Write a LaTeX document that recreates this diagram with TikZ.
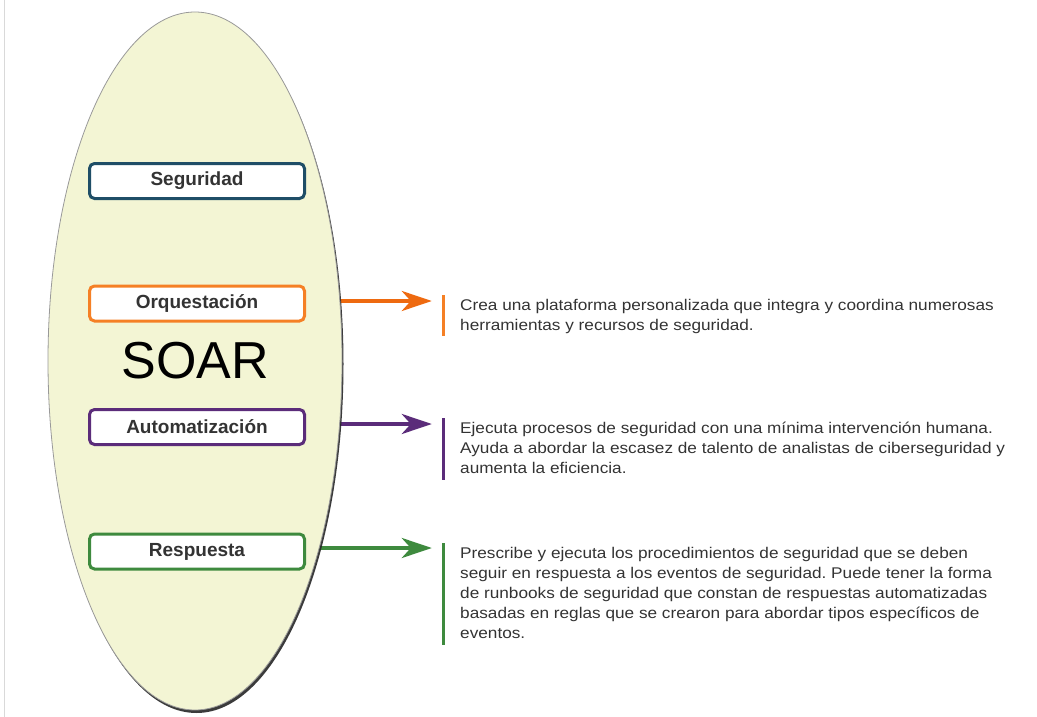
\documentclass[tikz,border=0pt]{standalone}
\usepackage{fontspec}
\setmainfont{Liberation Sans}
\newfontfamily\descfont[FakeStretch=1.11]{Liberation Sans}
\usetikzlibrary{arrows.meta,shapes.geometric,shadows}
\definecolor{segcol}{HTML}{1F4E67}
\definecolor{orqcol}{HTML}{F58025}
\definecolor{orqarrow}{HTML}{EE6A10}
\definecolor{autcol}{HTML}{5B2C7A}
\definecolor{rescol}{HTML}{3E8A3E}
\definecolor{txtgray}{HTML}{333333}
\definecolor{ovalfill}{HTML}{F3F5D4}
\pgfdeclarelayer{bg}
\pgfsetlayers{bg,main}
\frenchspacing
\tikzset{
  tagbox/.style={draw=#1, line width=3pt, rounded corners=5pt, fill=white,
    minimum width=215pt, minimum height=35pt, inner sep=0pt, text=txtgray,
    font=\fontsize{19}{22}\selectfont\bfseries},
  desc/.style={anchor=north west, align=left, inner sep=0pt, text=txtgray,
    font=\descfont\fontsize{15.5}{20}\selectfont},
  barline/.style={fill=#1, minimum width=3pt, inner sep=0pt},
  link/.style={draw=#1, line width=4pt, -{Stealth[length=30pt,width=20pt,inset=9pt]},
    shorten >=9.5pt}
}
\begin{document}
\begin{tikzpicture}[x=1pt,y=-1pt]
    \useasboundingbox (0,0) rectangle (1037,717);
    \draw[black!15, line width=1pt] (4.5,0) -- (4.5,717);
    \node[ellipse, draw=black!40, line width=0.8pt, fill=ovalfill, minimum width=294pt, minimum height=698pt, inner sep=0pt,
      drop shadow={shadow xshift=1.5pt, shadow yshift=-3pt, fill=black!85, opacity=0.9},
      font=\fontsize{52}{60}\selectfont] (soar) at (195,361) {SOAR};
    \node[tagbox=segcol] (seg) at (197,181) {Seguridad};
    \node[tagbox=orqcol] (orq) at (197,303.5) {Orquestación};
    \node[tagbox=autcol] (aut) at (197,427) {Automatización};
    \node[tagbox=rescol] (res) at (197,551.5) {Respuesta};
    \node[barline=orqcol, minimum height=41pt] (orqbar) at (443,315.5) {};
    \node[barline=autcol, minimum height=62pt] (autbar) at (443,449) {};
    \node[barline=rescol, minimum height=102pt] (resbar) at (443,594) {};
    \node[desc] (orqtxt) at (460,298.7) {Crea una plataforma personalizada que integra y coordina numerosas\\herramientas y recursos de seguridad.};
    \node[desc] (auttxt) at (460,421.7) {Ejecuta procesos de seguridad con una mínima intervención humana.\\Ayuda a abordar la escasez de talento de analistas de ciberseguridad y\\aumenta la eficiencia.};
    \node[desc] (restxt) at (460,546.7) {Prescribe y ejecuta los procedimientos de seguridad que se deben\\seguir en respuesta a los eventos de seguridad. Puede tener la forma\\de runbooks de seguridad que constan de respuestas automatizadas\\basadas en reglas que se crearon para abordar tipos específicos de\\eventos.};
    \begin{pgfonlayer}{bg}
    \draw[link=orqarrow] ([yshift=2.5pt]orq.east) -- ([yshift=2.5pt]orq.east -| orqbar.west);
    \draw[link=autcol] ([yshift=3pt]aut.east) -- ([yshift=3pt]aut.east -| autbar.west);
    \draw[link=rescol] ([yshift=3.5pt]res.east) -- ([yshift=3.5pt]res.east -| resbar.west);
    \end{pgfonlayer}
\end{tikzpicture}
\end{document}
